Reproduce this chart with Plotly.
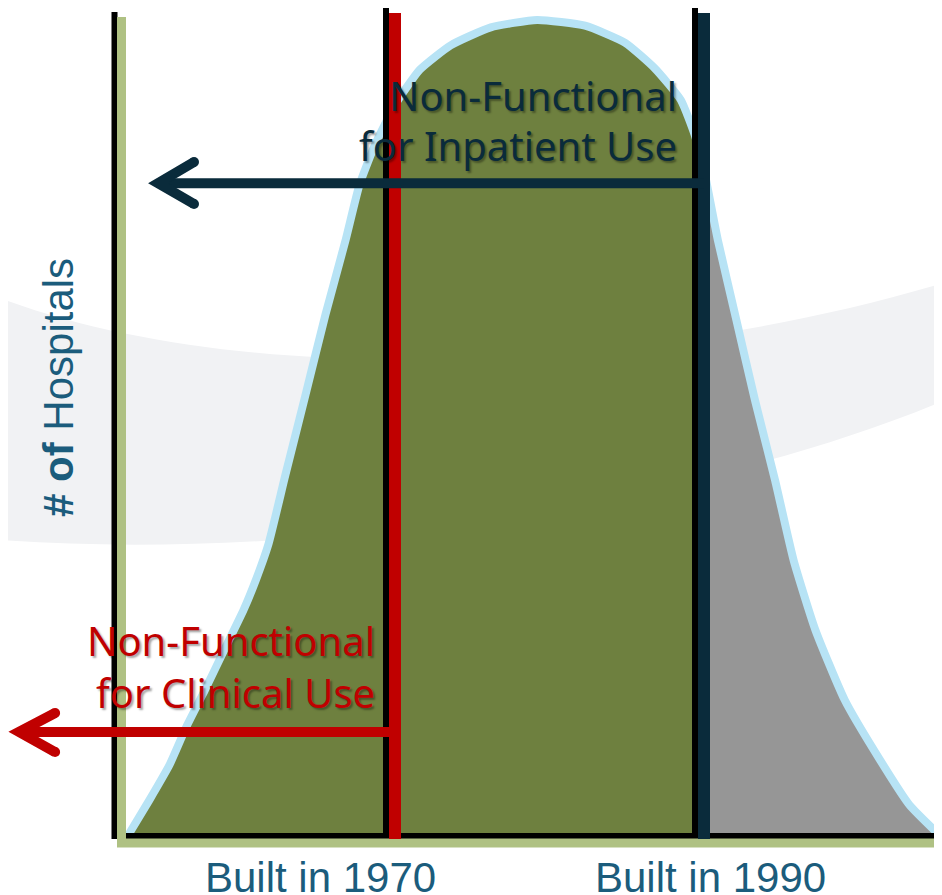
import plotly.graph_objects as go

# ---------------- data ----------------
build_years = [1952.7, 1954.1, 1955.4, 1956.5, 1957.7, 1959.0, 1960.2, 1961.0, 1961.8,
               1962.9, 1964.2, 1965.5, 1966.8, 1967.7, 1968.7, 1970.0, 1971.6, 1973.6,
               1976.2, 1979.2, 1982.3, 1984.9, 1986.8, 1988.5, 1989.4, 1990.0, 1990.9,
               1992.1, 1993.3, 1994.6, 1995.8, 1997.2, 1999.1, 2001.4, 2003.3, 2005.3]
hospitals = [0, 4.4, 8.7, 13.4, 17.9, 23.0, 27.7, 31.4, 35.7,
             44.2, 54.0, 63.9, 73.0, 79.8, 84.7, 89.6, 93.9, 96.9,
             99.1, 100.0, 99.3, 97.2, 94.1, 90.2, 85.9, 81.6, 73.0,
             63.2, 53.4, 43.6, 33.8, 25.3, 16.7, 9.3, 3.8, 0]

clinical_cutoff = 1970
inpatient_cutoff = 1990
tick_years = [1965.2, 1990.45]
tick_labels = ["Built in 1970", "Built in 1990"]
y_title = "<b># of</b> Hospitals"
inpatient_text = ["Non-Functional", "for Inpatient Use"]
clinical_text = ["Non-Functional", "for Clinical Use"]

# arrow geometry in data units (year, count)
inpatient_arrow = dict(y=80.0, tip=1954.66, arm_x=1956.99, arm_hi=82.6, arm_lo=77.45)
clinical_arrow = dict(y=12.75, tip=1945.66, arm_x=1948.0, arm_hi=15.07, arm_lo=10.29)

# ---------------- scales ----------------
W, H = 942, 895
OFF = 8  # page margin of the html body
PX_PER_YEAR = 15.45
PX_PER_COUNT = 8.16
X0 = clinical_cutoff - (395 - OFF) / PX_PER_YEAR
X1 = X0 + W / PX_PER_YEAR
Y0 = -(H - (836 - OFF)) / PX_PER_COUNT
Y1 = Y0 + H / PX_PER_COUNT


def dx(px):
    return px / PX_PER_YEAR


def dy(px):
    return px / PX_PER_COUNT


GREEN = "#6E803F"
GRAY = "#969696"
BLUE = "#B7E3F5"
RED = "#C00000"
NAVY = "#0A2B3B"
AXGREEN = "#AFC183"
TEXTBLUE = "#1B5C7C"

fig = go.Figure()

left_x = [x for x in build_years if x <= inpatient_cutoff]
left_y = hospitals[:len(left_x)]
right_x = [x for x in build_years if x >= inpatient_cutoff]
right_y = hospitals[len(build_years) - len(right_x):]

fig.add_trace(go.Scatter(x=left_x, y=left_y, fill="tozeroy", fillcolor=GREEN,
                         mode="lines", line=dict(width=0, color=GREEN), hoverinfo="skip"))
fig.add_trace(go.Scatter(x=right_x, y=right_y, fill="tozeroy", fillcolor=GRAY,
                         mode="lines", line=dict(width=0, color=GRAY), hoverinfo="skip"))
fig.add_trace(go.Scatter(x=build_years, y=hospitals, mode="lines",
                         line=dict(color=BLUE, width=8, shape="spline", smoothing=0.5),
                         hoverinfo="skip"))

shapes = []


def P(px, py):
    return f"{(px - OFF) / W:.5f},{1 - (py - OFF) / H:.5f}"


# background swoosh band
band = (f"M {P(0, 298)} C {P(250, 392)} {P(650, 372)} {P(950, 281)} "
        f"L {P(950, 398)} C {P(700, 505)} {P(300, 562)} {P(0, 540)} Z")
shapes.append(dict(type="path", xref="paper", yref="paper", path=band,
                   fillcolor="#F1F2F4", line=dict(width=0), layer="below"))

axis_x = clinical_cutoff - dx(395 - 121.5)
# black L (axis)
shapes.append(dict(type="path", xref="x", yref="y",
                   path=f"M {axis_x - dx(7)},{dy(824)} L {axis_x - dx(7)},{0} L {X1},{0}",
                   line=dict(color="black", width=6)))
# green L (axis)
shapes.append(dict(type="path", xref="x", yref="y",
                   path=f"M {axis_x},{dy(819)} L {axis_x},{-dy(7)} L {X1},{-dy(7)}",
                   line=dict(color=AXGREEN, width=9)))

for cut, col in [(clinical_cutoff, RED), (inpatient_cutoff, NAVY)]:
    shapes.append(dict(type="line", xref="x", yref="y",
                       x0=cut - dx(9), x1=cut - dx(9), y0=dy(3), y1=dy(829),
                       line=dict(color="black", width=6)))
    shapes.append(dict(type="line", xref="x", yref="y",
                       x0=cut, x1=cut, y0=-dy(3), y1=dy(823),
                       line=dict(color=col, width=12)))

for arr, start, col in [(inpatient_arrow, inpatient_cutoff, NAVY),
                        (clinical_arrow, clinical_cutoff, RED)]:
    shapes.append(dict(type="line", xref="x", yref="y",
                       x0=start, x1=arr["tip"] + dx(4), y0=arr["y"], y1=arr["y"],
                       line=dict(color=col, width=10)))
    shapes.append(dict(type="path", xref="x", yref="y",
                       path=(f"M {arr['arm_x']},{arr['arm_hi']} L {arr['tip']},{arr['y']} "
                             f"L {arr['arm_x']},{arr['arm_lo']}"),
                       line=dict(color=col, width=10)))
    fig.add_trace(go.Scatter(x=[arr["arm_x"], arr["arm_x"]], y=[arr["arm_hi"], arr["arm_lo"]],
                             mode="markers", marker=dict(size=10, color=col),
                             hoverinfo="skip"))

annotations = []
shadow = "2px 2px 2px rgba(0,0,0,0.35)"
for t, yv in zip(inpatient_text, [90.7, 84.6]):
    annotations.append(dict(x=inpatient_cutoff, y=yv, xref="x", yref="y", text=t,
                            showarrow=False, xanchor="right", yanchor="middle", xshift=-25,
                            font=dict(family="Noto Sans", size=40, color=NAVY, shadow=shadow)))
for t, yv in zip(clinical_text, [24.0, 17.6]):
    annotations.append(dict(x=clinical_cutoff, y=yv, xref="x", yref="y", text=t,
                            showarrow=False, xanchor="right", yanchor="middle", xshift=-18,
                            font=dict(family="Noto Sans", size=40, color=RED, shadow=shadow)))
for xv, t in zip(tick_years, tick_labels):
    annotations.append(dict(x=xv, y=1 - (877 - OFF) / H, xref="x", yref="paper", text=t,
                            showarrow=False, xanchor="center", yanchor="middle",
                            font=dict(family="Liberation Sans, Arial", size=42, color=TEXTBLUE)))
annotations.append(dict(x=(58 - OFF) / W, y=1 - (388 - OFF) / H, xref="paper", yref="paper",
                        text=y_title, showarrow=False, textangle=-90,
                        xanchor="center", yanchor="middle",
                        font=dict(family="Liberation Sans, Arial", size=42, color=TEXTBLUE)))

fig.update_layout(
    width=W, height=H, autosize=False,
    margin=dict(l=0, r=0, t=0, b=0),
    paper_bgcolor="white", plot_bgcolor="rgba(0,0,0,0)",
    showlegend=False,
    xaxis=dict(range=[X0, X1], visible=False, fixedrange=True),
    yaxis=dict(range=[Y0, Y1], visible=False, fixedrange=True),
    shapes=shapes, annotations=annotations,
)

fig.write_html("out.html")
